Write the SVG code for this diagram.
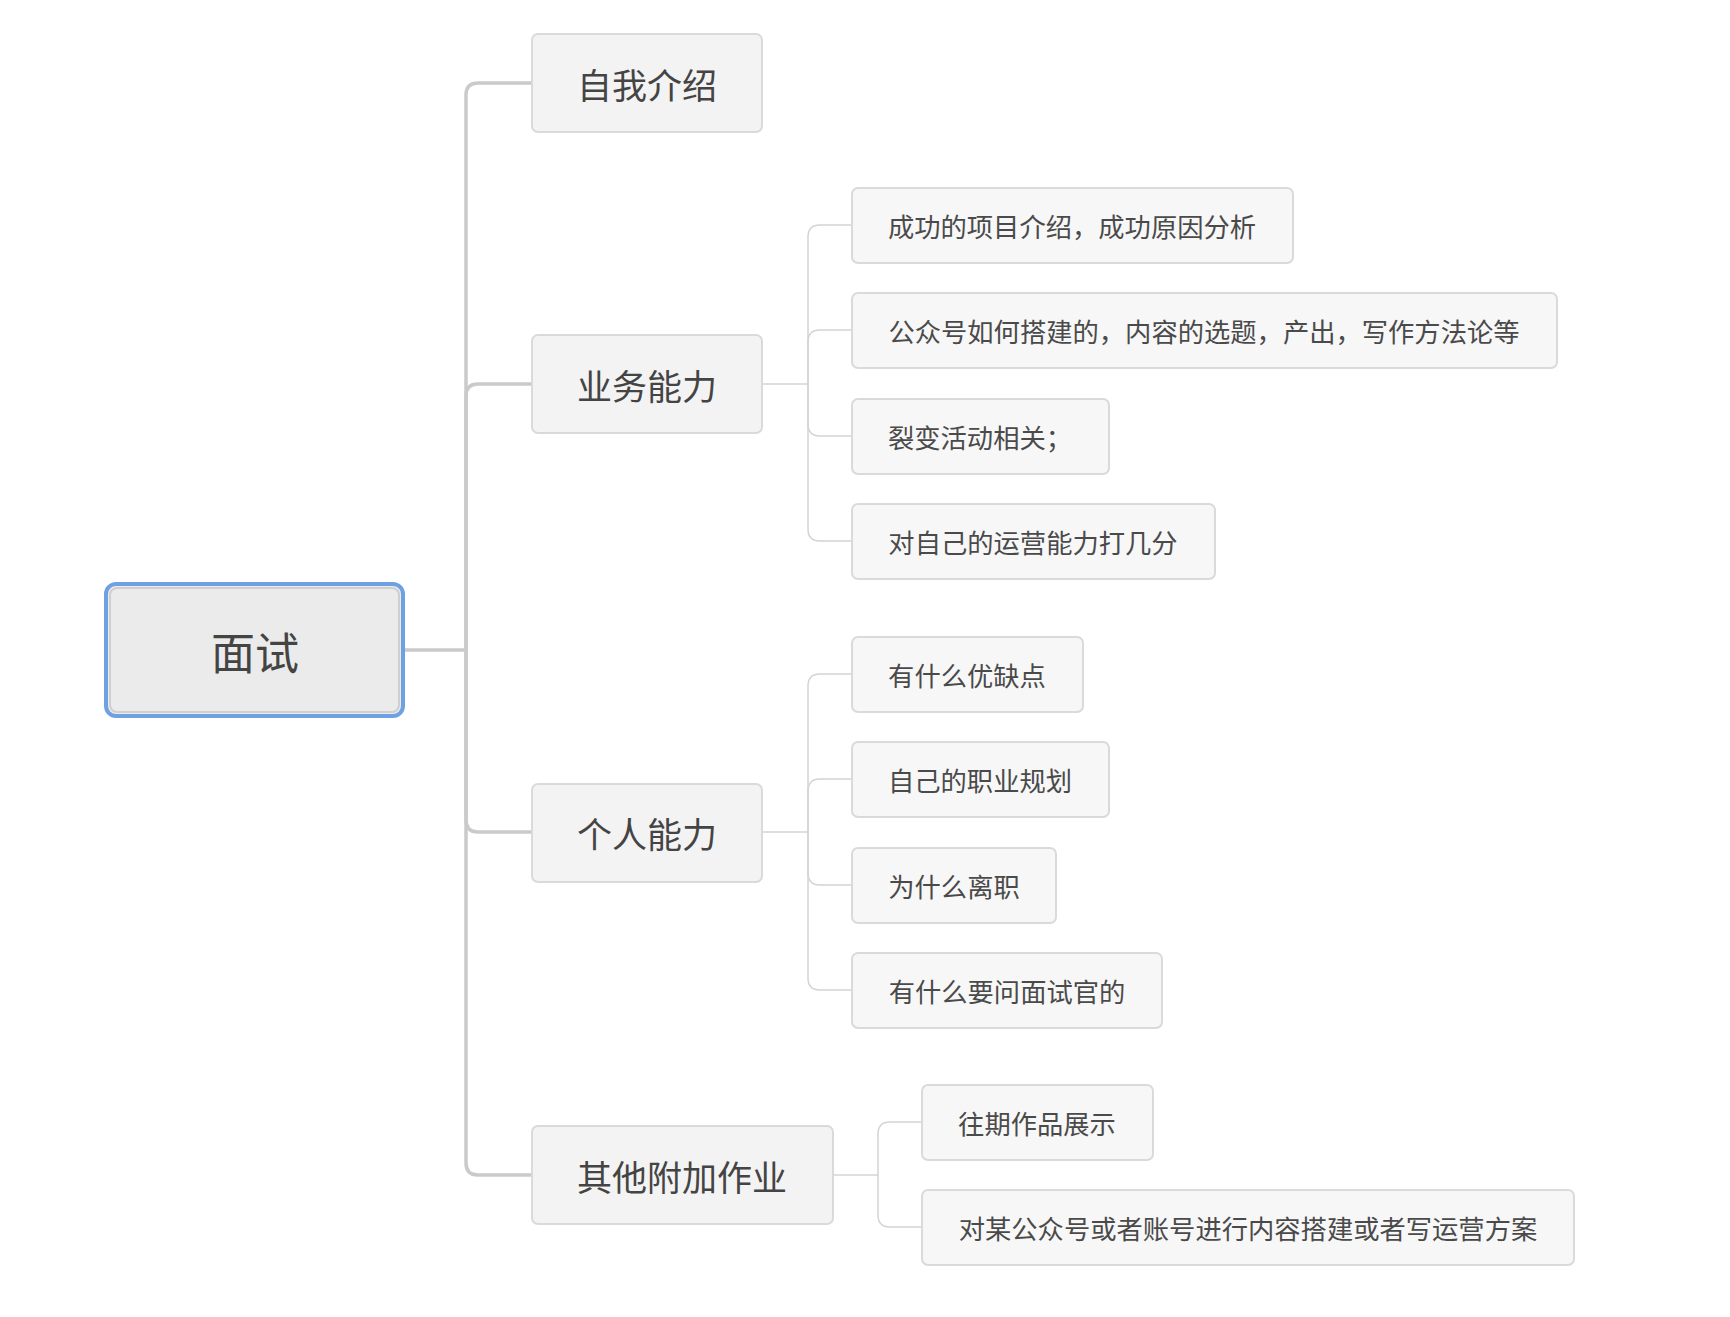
<svg xmlns="http://www.w3.org/2000/svg" width="1730" height="1317" viewBox="0 0 1730 1317">
<style>
.bg{fill:#ffffff}
.n1 rect{fill:#f3f3f3;stroke:#dadada;stroke-width:2}
.n2 rect{fill:#f7f7f7;stroke:#dadada;stroke-width:2}
text{font-family:"Noto Sans CJK SC","Noto Sans CJK JP",sans-serif;fill:#444;text-anchor:middle;dominant-baseline:central}
.t0{font-size:44px}
.t1{font-size:35px}
.t2{font-size:26.3px;fill:#4a4a4a}
.c1{fill:none;stroke:#cacaca;stroke-width:3.5}
.c2{fill:none;stroke:#d4d4d4;stroke-width:1.5}
</style>
<rect class="bg" width="1730" height="1317"/>
<g id="connectors">
  <path class="c1" d="M404 650 H466"/>
  <path class="c1" d="M466 650 V95 Q466 83 478 83 H532"/>
  <path class="c1" d="M466 650 V396 Q466 384 478 384 H532"/>
  <path class="c1" d="M466 650 V820 Q466 832 478 832 H532"/>
  <path class="c1" d="M466 650 V1163 Q466 1175 478 1175 H532"/>
  <path class="c2" d="M762 384 H808"/>
  <path class="c2" d="M808 384 V237 Q808 225 820 225 H852"/>
  <path class="c2" d="M808 384 V342 Q808 330 820 330 H852"/>
  <path class="c2" d="M808 384 V424 Q808 436 820 436 H852"/>
  <path class="c2" d="M808 384 V529 Q808 541 820 541 H852"/>
  <path class="c2" d="M762 832 H808"/>
  <path class="c2" d="M808 832 V686 Q808 674 820 674 H852"/>
  <path class="c2" d="M808 832 V791 Q808 779 820 779 H852"/>
  <path class="c2" d="M808 832 V873 Q808 885 820 885 H852"/>
  <path class="c2" d="M808 832 V978 Q808 990 820 990 H852"/>
  <path class="c2" d="M833 1175 H878"/>
  <path class="c2" d="M878 1175 V1134 Q878 1122 890 1122 H922"/>
  <path class="c2" d="M878 1175 V1215 Q878 1227 890 1227 H922"/>
</g>
<g id="root">
  <rect x="106" y="584" width="297" height="132" rx="10" fill="#ebebeb" stroke="#6fa1e2" stroke-width="4"/>
  <rect x="110" y="588" width="289" height="124" rx="7" fill="none" stroke="#cfcfcf" stroke-width="2"/>
  <text class="t0" x="255" y="651">面试</text>
</g>
<g id="n-ziwo" class="n1"><rect x="532" y="34" width="230" height="98" rx="6"/><text class="t1" x="647" y="83">自我介绍</text></g>
<g id="n-yewu" class="n1"><rect x="532" y="335" width="230" height="98" rx="6"/><text class="t1" x="647" y="384">业务能力</text></g>
<g id="n-geren" class="n1"><rect x="532" y="784" width="230" height="98" rx="6"/><text class="t1" x="647" y="832">个人能力</text></g>
<g id="n-qita" class="n1"><rect x="532" y="1126" width="301" height="98" rx="6"/><text class="t1" x="682" y="1175">其他附加作业</text></g>
<g id="n-yw1" class="n2"><rect x="852" y="188" width="441" height="75" rx="6"/><text class="t2" x="1072" y="225">成功的项目介绍，成功原因分析</text></g>
<g id="n-yw2" class="n2"><rect x="852" y="293" width="705" height="75" rx="6"/><text class="t2" x="1204" y="330">公众号如何搭建的，内容的选题，产出，写作方法论等</text></g>
<g id="n-yw3" class="n2"><rect x="852" y="399" width="257" height="75" rx="6"/><text class="t2" x="980" y="436">裂变活动相关；</text></g>
<g id="n-yw4" class="n2"><rect x="852" y="504" width="363" height="75" rx="6"/><text class="t2" x="1033" y="541">对自己的运营能力打几分</text></g>
<g id="n-gr1" class="n2"><rect x="852" y="637" width="231" height="75" rx="6"/><text class="t2" x="967" y="674">有什么优缺点</text></g>
<g id="n-gr2" class="n2"><rect x="852" y="742" width="257" height="75" rx="6"/><text class="t2" x="980" y="779">自己的职业规划</text></g>
<g id="n-gr3" class="n2"><rect x="852" y="848" width="204" height="75" rx="6"/><text class="t2" x="954" y="885">为什么离职</text></g>
<g id="n-gr4" class="n2"><rect x="852" y="953" width="310" height="75" rx="6"/><text class="t2" x="1007" y="990">有什么要问面试官的</text></g>
<g id="n-qt1" class="n2"><rect x="922" y="1085" width="231" height="75" rx="6"/><text class="t2" x="1037" y="1122">往期作品展示</text></g>
<g id="n-qt2" class="n2"><rect x="922" y="1190" width="652" height="75" rx="6"/><text class="t2" x="1248" y="1227">对某公众号或者账号进行内容搭建或者写运营方案</text></g>
</svg>
